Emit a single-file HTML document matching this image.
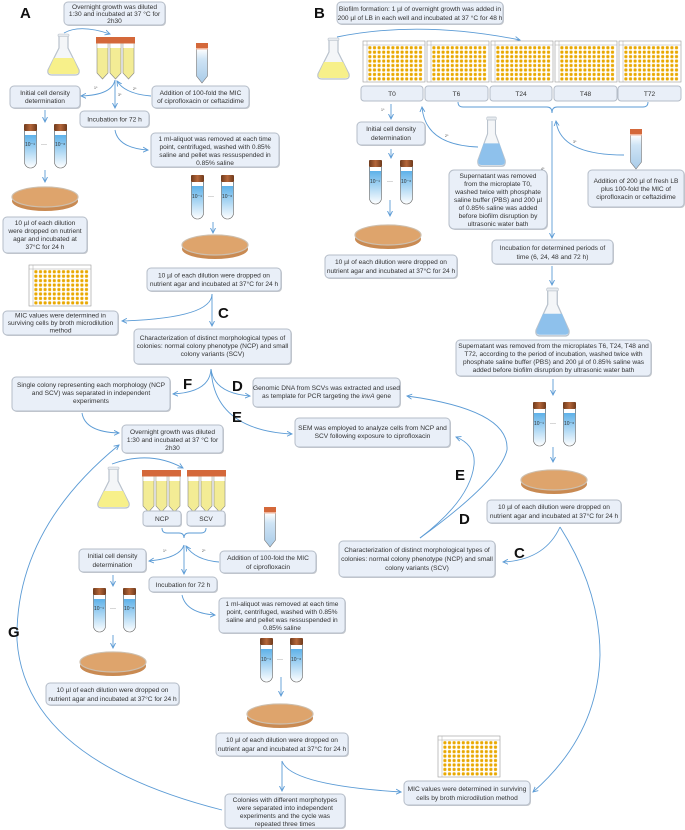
<!DOCTYPE html>
<html><head><meta charset="utf-8"><style>
html,body{margin:0;padding:0;background:#fff;width:685px;height:830px;overflow:hidden}
.bx{fill:#e9eff8;stroke:#b5bdc8;stroke-width:1}
.sh{fill:#c9ccd1}
.t{font-family:"Liberation Sans",sans-serif;font-size:6.6px;fill:#333;text-anchor:middle}
.s{font-family:"Liberation Sans",sans-serif;font-size:5px;fill:#333}
.L{font-family:"Liberation Sans",sans-serif;font-size:15px;font-weight:bold;fill:#111}
.a{fill:none;stroke:#5b9bd5;stroke-width:0.9;marker-end:url(#ar)}
.n{fill:none;stroke:#5b9bd5;stroke-width:0.9}
.d{font-family:"Liberation Sans",sans-serif;font-size:6px;fill:#222}
.sm{font-family:"Liberation Sans",sans-serif;font-size:3.5px;fill:#444}
</style></head><body>
<svg width="685" height="830" viewBox="0 0 685 830" xmlns="http://www.w3.org/2000/svg">
<defs>
<marker id="ar" markerWidth="6" markerHeight="6" refX="5" refY="3" orient="auto" markerUnits="userSpaceOnUse"><path d="M0,0.5 L5,3 L0,5.5" fill="none" stroke="#5b9bd5" stroke-width="0.9"/></marker>
<linearGradient id="bg" x1="0" y1="0" x2="0" y2="1"><stop offset="0" stop-color="#4aa8e6"/><stop offset="1" stop-color="#ffffff"/></linearGradient>
<linearGradient id="cg" x1="0" y1="0" x2="0" y2="1"><stop offset="0" stop-color="#ffffff"/><stop offset="0.3" stop-color="#cfe4f5"/><stop offset="1" stop-color="#a9cbe8"/></linearGradient>
<linearGradient id="capb" x1="0" y1="0" x2="1" y2="0"><stop offset="0" stop-color="#6e3a1c"/><stop offset="0.5" stop-color="#b5673a"/><stop offset="1" stop-color="#6e3a1c"/></linearGradient>
<pattern id="wp" x="0" y="0" width="4.6" height="4.45" patternUnits="userSpaceOnUse"><rect x="0.8" y="0.8" width="3" height="3" rx="0.8" fill="#e9a800"/></pattern>
<g id="bt"><path d="M0.5,7 h12 v31 a6,6 0 0 1 -12,0z" fill="url(#bg)" stroke="#666" stroke-width="0.6"/><rect x="1" y="7" width="11" height="4" fill="#fff"/><rect x="0" y="0" width="13" height="7" rx="1" fill="url(#capb)"/></g>
<g id="ct"><path d="M0.5,6 h11 v27 l-5.5,7 l-5.5,-7z" fill="url(#cg)" stroke="#777" stroke-width="0.6"/><rect x="0" y="0" width="12" height="6" fill="#d4683a"/><rect x="0" y="5" width="12" height="1.5" fill="#f0b49a"/></g>
<g id="yt"><path d="M1,6 h11 v30 l-5.5,6 l-5.5,-6z" fill="#f3ec95" stroke="#888" stroke-width="0.6"/><rect x="1.3" y="6" width="10.4" height="5" fill="#fff"/><rect x="0" y="0" width="13" height="6.5" fill="#d4683a"/></g>
<g id="fl"><path d="M12,2 L12,14 L1,36 Q0,41 5,41 L28,41 Q33,41 32,36 L21,14 L21,2 Z" fill="#f4f6f8" stroke="#b9c2cc" stroke-width="1.2"/><path d="M7,24 L26,24 L31.5,36 Q32.5,40 28,40 L5,40 Q0.5,40 1.5,36Z" fill="#f7f08a"/><rect x="11" y="0" width="11" height="2.5" rx="1" fill="#e6eaee" stroke="#b9c2cc" stroke-width="0.6"/></g>
<g id="flb"><path d="M12,2 L12,14 L1,36 Q0,41 5,41 L28,41 Q33,41 32,36 L21,14 L21,2 Z" fill="#f4f6f8" stroke="#b9c2cc" stroke-width="1.2"/><path d="M7.5,22 L25.5,22 L31.5,36 Q32.5,40 28,40 L5,40 Q0.5,40 1.5,36Z" fill="#8ec1ec"/><rect x="11" y="0" width="11" height="2.5" rx="1" fill="#e6eaee" stroke="#b9c2cc" stroke-width="0.6"/></g>
<g id="pd"><ellipse cx="0" cy="4" rx="33" ry="10" fill="#c98a52"/><ellipse cx="0" cy="0" rx="33" ry="10" fill="#dea46c" stroke="#cdbfae" stroke-width="1.2"/><ellipse cx="0" cy="-1" rx="31" ry="8.5" fill="#dea46c"/></g>
<g id="mp"><rect x="0" y="0" width="62" height="41" fill="#fff" stroke="#999" stroke-width="0.6"/><line x1="4" y1="0" x2="4" y2="41" stroke="#aaa" stroke-width="0.5"/><line x1="0" y1="4" x2="62" y2="4" stroke="#aaa" stroke-width="0.5"/><rect x="4.5" y="4.5" width="55.2" height="35.6" fill="url(#wp)"/></g>
</defs>

<!-- ===== A ===== -->
<text class="L" x="20" y="18">A</text>
<rect class="sh" x="65" y="3" width="101" height="23" rx="4"/><rect class="bx" x="64" y="2" width="101" height="23" rx="4"/>
<text class="t" x="114.5" y="9">Overnight growth was diluted</text><text class="t" x="114.5" y="16">1:30 and incubated at 37 °C for</text><text class="t" x="114.5" y="23">2h30</text>
<use href="#fl" x="47" y="34"/>
<use href="#yt" x="96" y="37"/><use href="#yt" x="109" y="37"/><use href="#yt" x="122" y="37"/>
<use href="#ct" x="196" y="43"/>
<path class="a" d="M64,33 Q80,24 110,34"/>
<rect class="sh" x="11" y="87" width="70" height="22" rx="4"/><rect class="bx" x="10" y="86" width="70" height="22" rx="4"/>
<text class="t" x="45" y="95">Initial cell density</text><text class="t" x="45" y="103">determination</text>
<rect class="sh" x="153" y="87" width="97" height="22" rx="4"/><rect class="bx" x="152" y="86" width="97" height="22" rx="4"/>
<text class="t" x="200.5" y="95">Addition of 100-fold the MIC</text><text class="t" x="200.5" y="103">of ciprofloxacin or ceftazidime</text>
<rect class="sh" x="81" y="112" width="69" height="16" rx="4"/><rect class="bx" x="80" y="111" width="69" height="16" rx="4"/>
<text class="t" x="114.5" y="121.5">Incubation for 72 h</text>
<path class="a" d="M115,80 Q112,95 81,96"/><path class="a" d="M115,80 L115,108"/><path class="a" d="M151,96 Q125,94 117,81"/>
<text class="sm" x="94" y="89">1º</text><text class="sm" x="118" y="96">3º</text><text class="sm" x="133" y="90">2º</text>
<path class="a" d="M45,110 L45,122"/>
<use href="#bt" x="24" y="124"/><use href="#bt" x="54" y="124"/>
<text class="s" x="25" y="146">10⁻¹</text><text class="s" x="55" y="146">10⁻⁶</text><text class="d" x="41" y="146">···</text>
<path class="a" d="M45,170 L45,182"/>
<use href="#pd" x="45" y="197"/>
<rect class="sh" x="4" y="218" width="84" height="36" rx="4"/><rect class="bx" x="3" y="217" width="84" height="36" rx="4"/>
<text class="t" x="45" y="225">10 µl of each dilution</text><text class="t" x="45" y="233">were dropped on nutrient</text><text class="t" x="45" y="241">agar and incubated at</text><text class="t" x="45" y="249">37°C for 24 h</text>
<path class="a" d="M115,130 Q118,148 148,150"/>
<rect class="sh" x="152" y="134" width="128" height="34" rx="4"/><rect class="bx" x="151" y="133" width="128" height="34" rx="4"/>
<text class="t" x="215" y="141">1 ml-aliquot was removed at each time</text><text class="t" x="215" y="149">point, centrifuged, washed with 0.85%</text><text class="t" x="215" y="157">saline and pellet was ressuspended in</text><text class="t" x="215" y="165">0.85% saline</text>
<use href="#bt" x="191" y="175"/><use href="#bt" x="221" y="175"/>
<text class="s" x="192" y="198">10⁻¹</text><text class="s" x="222" y="198">10⁻⁶</text><text class="d" x="208" y="198">···</text>
<path class="a" d="M213,222 L213,233"/>
<use href="#pd" x="215" y="245"/>
<rect class="sh" x="148" y="269" width="134" height="23" rx="4"/><rect class="bx" x="147" y="268" width="134" height="23" rx="4"/>
<text class="t" x="214" y="277.5">10 µl of each dilution were dropped on</text><text class="t" x="214" y="286">nutrient agar and incubated at 37°C for 24 h</text>
<use href="#mp" x="29" y="265"/>
<rect class="sh" x="4" y="312" width="115" height="24" rx="4"/><rect class="bx" x="3" y="311" width="115" height="24" rx="4"/>
<text class="t" x="60.5" y="317.5">MIC values were determined in</text><text class="t" x="60.5" y="325">surviving cells by broth microdilution</text><text class="t" x="60.5" y="332.5">method</text>
<path class="a" d="M212,294 L212,326"/><path class="a" d="M212,294 Q212,318 122,321"/>
<text class="L" x="218" y="318">C</text>
<rect class="sh" x="135" y="330" width="157" height="35" rx="4"/><rect class="bx" x="134" y="329" width="157" height="35" rx="4"/>
<text class="t" x="212.5" y="340">Characterization of distinct morphological types of</text><text class="t" x="212.5" y="348">colonies:  normal colony phenotype (NCP) and small</text><text class="t" x="212.5" y="356">colony variants (SCV)</text>
<path class="a" d="M211,369 Q210,392 173,394"/><path class="a" d="M211,369 Q214,393 250,396"/><path class="a" d="M211,369 Q214,430 292,434"/>
<text class="L" x="183" y="389">F</text><text class="L" x="232" y="391">D</text><text class="L" x="232" y="422">E</text>
<rect class="sh" x="13" y="378" width="158" height="34" rx="4"/><rect class="bx" x="12" y="377" width="158" height="34" rx="4"/>
<text class="t" x="91" y="387">Single colony representing each morphology (NCP</text><text class="t" x="91" y="395">and SCV) was separated in independent</text><text class="t" x="91" y="403">experiments</text>
<rect class="sh" x="254" y="379" width="147" height="29" rx="4"/><rect class="bx" x="253" y="378" width="147" height="29" rx="4"/>
<text class="t" x="326.5" y="390">Genomic DNA from SCVs was extracted and used</text><text class="t" x="326.5" y="398">as template for PCR targeting the <tspan font-style="italic">invA</tspan> gene</text>
<rect class="sh" x="296" y="419" width="155" height="29" rx="4"/><rect class="bx" x="295" y="418" width="155" height="29" rx="4"/>
<text class="t" x="372.5" y="430">SEM was employed to analyze cells from NCP and</text><text class="t" x="372.5" y="438">SCV following exposure to ciprofloxacin</text>

<!-- ===== bottom-left ===== -->
<path class="a" d="M82,413 Q85,432 119,433"/>
<rect class="sh" x="123" y="426" width="101" height="28" rx="4"/><rect class="bx" x="122" y="425" width="101" height="28" rx="4"/>
<text class="t" x="172.5" y="434">Overnight growth was diluted</text><text class="t" x="172.5" y="442">1:30 and incubated at 37 °C for</text><text class="t" x="172.5" y="450">2h30</text>
<path class="a" d="M222,810 Q25,760 17,640 Q15,530 119,445"/>
<text class="L" x="8" y="637">G</text>
<use href="#fl" x="97" y="467"/>
<path class="a" d="M112,464 Q150,450 183,468"/>
<use href="#yt" x="142" y="470"/><use href="#yt" x="155" y="470"/><use href="#yt" x="168" y="470"/>
<use href="#yt" x="187" y="470"/><use href="#yt" x="200" y="470"/><use href="#yt" x="213" y="470"/>
<rect class="sh" x="144" y="512" width="38" height="15" rx="3"/><rect class="bx" x="143" y="511" width="38" height="15" rx="3"/><text class="t" x="162" y="521">NCP</text>
<rect class="sh" x="188" y="512" width="38" height="15" rx="3"/><rect class="bx" x="187" y="511" width="38" height="15" rx="3"/><text class="t" x="206" y="521">SCV</text>
<path class="n" d="M162,528 Q162,533 167,533 L179,533 Q184,533 184,538 Q184,533 189,533 L201,533 Q206,533 206,528"/>
<use href="#ct" x="264" y="507"/>
<path class="a" d="M184,545 Q180,558 149,561"/><path class="a" d="M184,545 L184,574"/><path class="a" d="M219,562 Q195,560 186,546"/>
<text class="sm" x="163" y="552">1º</text><text class="sm" x="202" y="552">2º</text>
<rect class="sh" x="80" y="550" width="67" height="23" rx="4"/><rect class="bx" x="79" y="549" width="67" height="23" rx="4"/>
<text class="t" x="112.5" y="558">Initial cell density</text><text class="t" x="112.5" y="567">determination</text>
<rect class="sh" x="221" y="552" width="96" height="22" rx="4"/><rect class="bx" x="220" y="551" width="96" height="22" rx="4"/>
<text class="t" x="268" y="560">Addition of 100-fold the MIC</text><text class="t" x="268" y="569">of ciprofloxacin</text>
<rect class="sh" x="150" y="578" width="68" height="15" rx="4"/><rect class="bx" x="149" y="577" width="68" height="15" rx="4"/>
<text class="t" x="183" y="587">Incubation for 72 h</text>
<path class="a" d="M113,575 L113,586"/>
<use href="#bt" x="93" y="588"/><use href="#bt" x="123" y="588"/>
<text class="s" x="94" y="610">10⁻¹</text><text class="s" x="124" y="610">10⁻⁶</text><text class="d" x="110" y="610">···</text>
<path class="a" d="M113,635 L113,648"/>
<use href="#pd" x="113" y="662"/>
<rect class="sh" x="47" y="684" width="133" height="22" rx="4"/><rect class="bx" x="46" y="683" width="133" height="22" rx="4"/>
<text class="t" x="112.5" y="692">10 µl of each dilution were dropped on</text><text class="t" x="112.5" y="701">nutrient agar and incubated at 37°C for 24 h</text>
<path class="a" d="M182,595 Q186,613 215,615"/>
<rect class="sh" x="220" y="599" width="126" height="35" rx="4"/><rect class="bx" x="219" y="598" width="126" height="35" rx="4"/>
<text class="t" x="282" y="606">1 ml-aliquot was removed at each time</text><text class="t" x="282" y="614">point, centrifuged, washed with 0.85%</text><text class="t" x="282" y="622">saline and pellet was ressuspended in</text><text class="t" x="282" y="630">0.85% saline</text>
<use href="#bt" x="260" y="638"/><use href="#bt" x="290" y="638"/>
<text class="s" x="261" y="661">10⁻¹</text><text class="s" x="291" y="661">10⁻⁶</text><text class="d" x="277" y="661">···</text>
<path class="a" d="M281,677 L281,696"/>
<use href="#pd" x="280" y="714"/>
<rect class="sh" x="217" y="734" width="132" height="23" rx="4"/><rect class="bx" x="216" y="733" width="132" height="23" rx="4"/>
<text class="t" x="282" y="742">10 µl of each dilution were dropped on</text><text class="t" x="282" y="751">nutrient agar and incubated at 37°C for 24 h</text>
<path class="a" d="M282,761 L282,791"/><path class="a" d="M282,761 Q290,785 401,792"/>
<rect class="sh" x="226" y="795" width="120" height="34" rx="4"/><rect class="bx" x="225" y="794" width="120" height="34" rx="4"/>
<text class="t" x="285" y="802">Colonies with different morphotypes</text><text class="t" x="285" y="810">were separated into independent</text><text class="t" x="285" y="818">experiments and the cycle was</text><text class="t" x="285" y="826">repeated three times</text>

<!-- ===== B ===== -->
<text class="L" x="314" y="18">B</text>
<rect class="sh" x="338" y="3" width="166" height="22" rx="4"/><rect class="bx" x="337" y="2" width="166" height="22" rx="4"/>
<text class="t" x="420" y="11">Biofilm formation: 1 µl of overnight growth was added in</text><text class="t" x="420" y="20">200 µl of LB in each well and incubated at 37 °C for 48 h</text>
<use href="#fl" x="317" y="38"/>
<path class="a" d="M337,37 Q420,20 520,40"/>
<use href="#mp" x="363" y="41"/><use href="#mp" x="427" y="41"/><use href="#mp" x="491" y="41"/><use href="#mp" x="555" y="41"/><use href="#mp" x="619" y="41"/>
<rect class="bx" x="361" y="86" width="62" height="15" rx="3"/><text class="t" x="392" y="96">T0</text>
<rect class="bx" x="425" y="86" width="63" height="15" rx="3"/><text class="t" x="456.5" y="96">T6</text>
<rect class="bx" x="490" y="86" width="62" height="15" rx="3"/><text class="t" x="521" y="96">T24</text>
<rect class="bx" x="554" y="86" width="63" height="15" rx="3"/><text class="t" x="585.5" y="96">T48</text>
<rect class="bx" x="618" y="86" width="63" height="15" rx="3"/><text class="t" x="649.5" y="96">T72</text>
<path class="n" d="M458,102 Q458,107 463,107 L547,107 Q552,107 552,113 Q552,107 557,107 L643,107 Q648,107 648,102"/>
<path class="a" d="M391,104 L391,119"/><text class="sm" x="381" y="111">1º</text>
<path class="a" d="M478,147 Q425,145 422,107"/><text class="sm" x="445" y="137">2º</text>
<path class="a" d="M624,155 Q560,155 556,121"/><text class="sm" x="573" y="143">3º</text>
<path class="a" d="M552,121 L552,238"/><text class="sm" x="541" y="170">4º</text>
<rect class="sh" x="358" y="123" width="68" height="23" rx="4"/><rect class="bx" x="357" y="122" width="68" height="23" rx="4"/>
<text class="t" x="391" y="131">Initial cell density</text><text class="t" x="391" y="140">determination</text>
<path class="a" d="M391,149 L391,158"/>
<use href="#bt" x="369" y="160"/><use href="#bt" x="400" y="160"/>
<text class="s" x="370" y="183">10⁻¹</text><text class="s" x="401" y="183">10⁻⁶</text><text class="d" x="387" y="183">···</text>
<path class="a" d="M390,200 L390,216"/>
<use href="#pd" x="388" y="235"/>
<rect class="sh" x="326" y="256" width="132" height="23" rx="4"/><rect class="bx" x="325" y="255" width="132" height="23" rx="4"/>
<text class="t" x="391" y="264">10 µl of each dilution were dropped on</text><text class="t" x="391" y="273">nutrient agar and incubated at 37°C for 24 h</text>
<use href="#flb" x="477" y="117" transform="translate(477,117) scale(0.88,1.2) translate(-477,-117)"/>
<rect class="sh" x="450" y="171" width="98" height="59" rx="5"/><rect class="bx" x="449" y="170" width="98" height="59" rx="5"/>
<text class="t" x="498" y="178">Supernatant was removed</text><text class="t" x="498" y="186">from  the microplate T0,</text><text class="t" x="498" y="194">washed twice with phosphate</text><text class="t" x="498" y="202">saline buffer (PBS) and 200 µl</text><text class="t" x="498" y="210">of 0.85% saline was added</text><text class="t" x="498" y="218">before biofilm disruption by</text><text class="t" x="498" y="226">ultrasonic water bath</text>
<use href="#ct" x="630" y="129"/>
<rect class="sh" x="589" y="171" width="96" height="37" rx="4"/><rect class="bx" x="588" y="170" width="96" height="37" rx="4"/>
<text class="t" x="636" y="183">Addition of 200 µl of fresh LB</text><text class="t" x="636" y="191">plus 100-fold the MIC of</text><text class="t" x="636" y="199">ciprofloxacin or ceftazidime</text>
<rect class="sh" x="493" y="241" width="121" height="24" rx="4"/><rect class="bx" x="492" y="240" width="121" height="24" rx="4"/>
<text class="t" x="552.5" y="250">Incubation for determined periods of</text><text class="t" x="552.5" y="259">time (6, 24, 48 and 72 h)</text>
<path class="a" d="M552,266 L552,285"/>
<use href="#flb" x="535" y="288" transform="translate(535,288) scale(1.06,1.17) translate(-535,-288)"/>
<rect class="sh" x="457" y="341" width="195" height="36" rx="4"/><rect class="bx" x="456" y="340" width="195" height="36" rx="4"/>
<text class="t" x="553.5" y="348">Supernatant was removed from the microplates T6, T24, T48 and</text><text class="t" x="553.5" y="356">T72, according to the period of incubation, washed twice with</text><text class="t" x="553.5" y="364">phosphate saline buffer (PBS) and 200 µl of 0.85% saline was</text><text class="t" x="553.5" y="372">added before biofilm disruption by ultrasonic water bath</text>
<path class="a" d="M553,379 L553,395"/>
<use href="#bt" x="533" y="402"/><use href="#bt" x="563" y="402"/>
<text class="s" x="534" y="425">10⁻¹</text><text class="s" x="564" y="425">10⁻⁶</text><text class="d" x="550" y="425">···</text>
<path class="a" d="M553,447 L553,462"/>
<use href="#pd" x="554" y="480"/>
<rect class="sh" x="488" y="501" width="134" height="23" rx="4"/><rect class="bx" x="487" y="500" width="134" height="23" rx="4"/>
<text class="t" x="554" y="509">10 µl of each dilution were dropped on</text><text class="t" x="554" y="518">nutrient agar and incubated at 37°C for 24 h</text>
<path class="a" d="M560,527 Q545,560 503,562"/>
<path class="a" d="M560,527 Q600,590 600,655 Q598,735 533,792"/>
<text class="L" x="514" y="558">C</text>
<rect class="sh" x="340" y="542" width="156" height="36" rx="4"/><rect class="bx" x="339" y="541" width="156" height="36" rx="4"/>
<text class="t" x="417" y="552">Characterization of distinct morphological types of</text><text class="t" x="417" y="561">colonies:  normal colony phenotype (NCP) and small</text><text class="t" x="417" y="570">colony variants (SCV)</text>
<path class="a" d="M420,538 Q500,480 507,450 Q510,410 407,396"/>
<path class="a" d="M420,538 Q470,500 474,465 Q476,445 456,437"/>
<text class="L" x="455" y="480">E</text><text class="L" x="459" y="524">D</text>
<use href="#mp" x="438" y="736"/>
<rect class="sh" x="405" y="782" width="126" height="24" rx="4"/><rect class="bx" x="404" y="781" width="126" height="24" rx="4"/>
<text class="t" x="467" y="791">MIC values were determined in surviving</text><text class="t" x="467" y="800">cells by broth microdilution method</text>
</svg>
</body></html>
